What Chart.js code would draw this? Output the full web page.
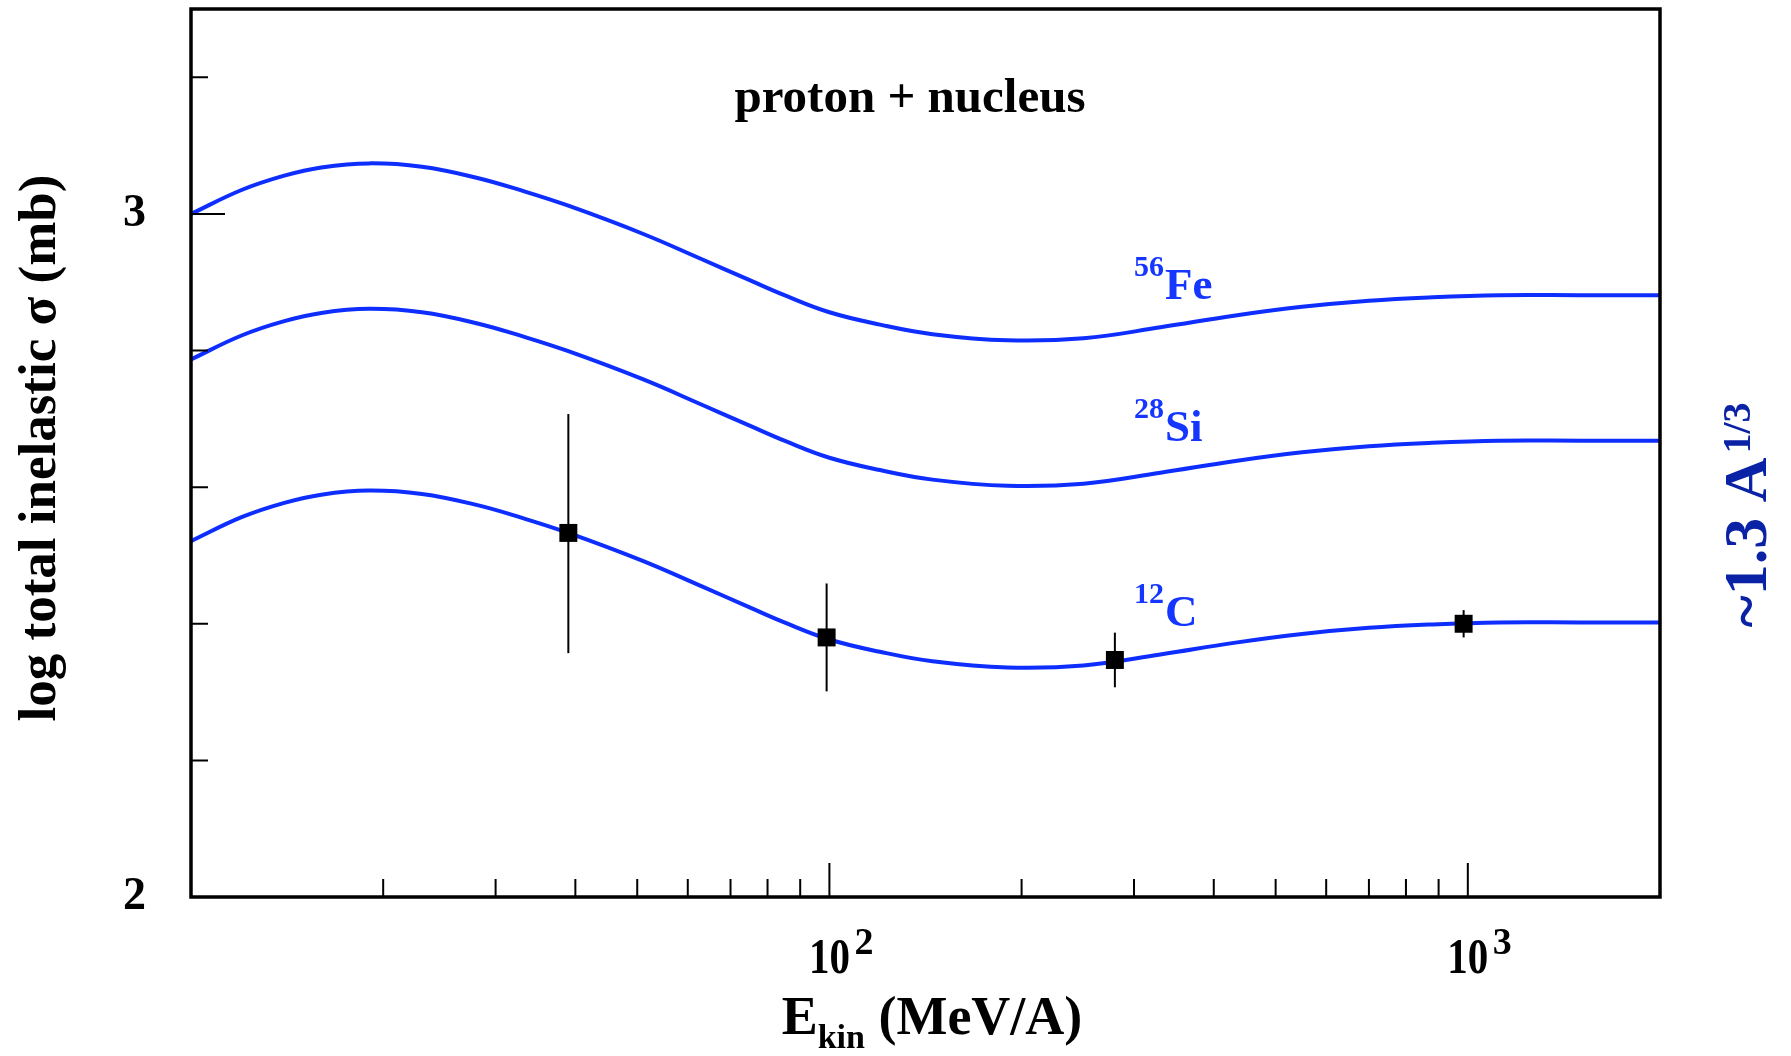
<!DOCTYPE html>
<html>
<head>
<meta charset="utf-8">
<script src="https://cdn.jsdelivr.net/npm/chart.js@4.4.1/dist/chart.umd.min.js"></script>
<style>
  body { margin: 0; background: #fff; }
  #wrap { width: 1791px; height: 1056px; }
</style>
</head>
<body>
<div id="wrap"><canvas id="xsec"></canvas></div>
<script>
// model curves, log10 of total inelastic cross section (mb) vs kinetic energy (MeV/A)
const energy  = [10, 12, 14, 16, 19, 23, 28, 33, 39, 51, 63, 75, 85, 100, 120, 145, 190, 250, 330, 430, 550, 700, 880, 1120, 1500, 2000];
const sigmaFe = [3.000, 3.035, 3.056, 3.068, 3.074, 3.069, 3.053, 3.034, 3.012, 2.971, 2.934, 2.903, 2.881, 2.856, 2.838, 2.824, 2.815, 2.818, 2.834, 2.851, 2.864, 2.873, 2.878, 2.881, 2.881, 2.881];
const sigmaSi = [2.787, 2.822, 2.843, 2.855, 2.861, 2.856, 2.840, 2.821, 2.799, 2.758, 2.721, 2.690, 2.668, 2.643, 2.625, 2.611, 2.602, 2.605, 2.621, 2.638, 2.651, 2.660, 2.665, 2.668, 2.668, 2.668];
const sigmaC  = [2.521, 2.556, 2.577, 2.589, 2.595, 2.590, 2.574, 2.555, 2.533, 2.492, 2.455, 2.424, 2.402, 2.377, 2.359, 2.345, 2.336, 2.339, 2.355, 2.372, 2.385, 2.394, 2.399, 2.402, 2.402, 2.402];

// measured 12C points with error bars
const measE  = [39, 99, 280, 985];
const measC  = [2.533, 2.380, 2.347, 2.400];
const measHi = [2.707, 2.459, 2.387, 2.420];
const measLo = [2.357, 2.301, 2.307, 2.380];

// axis ticks
const xMajor = [100, 1000];
const xMajorExp = ['2', '3'];
const xMinor = [20, 30, 40, 50, 60, 70, 80, 90, 200, 300, 400, 500, 600, 700, 800, 900];
const yMajor = [2, 3];
const yMinor = [2.2, 2.4, 2.6, 2.8, 3.2];

// isotope labels
const isoMass = ['56', '28', '12'];
const isoName = ['Fe', 'Si', 'C'];
const isoLevel = [2.876, 2.667, 2.397];

const BLUE = '#0d2eff';
const LABEL_BLUE = '#1436ff';
const DARK_BLUE = '#0a22a5';
const SERIF = '"Liberation Serif", "Times New Roman", serif';

function curve(values) {
  return {
    data: energy.map((e, i) => ({ x: e, y: values[i] })),
    showLine: true,
    borderColor: BLUE,
    borderWidth: 4,
    pointRadius: 0,
    tension: 0.4,
    order: 3
  };
}

const errorBars = measE.map((e, i) => ({
  data: [{ x: e, y: measLo[i] }, { x: e, y: measHi[i] }],
  showLine: true,
  borderColor: '#000',
  borderWidth: 2,
  pointRadius: 0,
  order: 2
}));

const frameAndLabels = {
  id: 'frameAndLabels',
  afterDraw(chart) {
    const { ctx, chartArea: a, scales: { x, y } } = chart;
    ctx.save();

    // inward ticks
    ctx.strokeStyle = '#000';
    ctx.lineWidth = 2;
    ctx.beginPath();
    xMinor.forEach(v => { const px = x.getPixelForValue(v); ctx.moveTo(px, a.bottom); ctx.lineTo(px, a.bottom - 18); });
    xMajor.forEach(v => { const px = x.getPixelForValue(v); ctx.moveTo(px, a.bottom); ctx.lineTo(px, a.bottom - 34); });
    yMinor.forEach(v => { const py = y.getPixelForValue(v); ctx.moveTo(a.left, py); ctx.lineTo(a.left + 17, py); });
    yMajor.forEach(v => { const py = y.getPixelForValue(v); ctx.moveTo(a.left, py); ctx.lineTo(a.left + 34, py); });
    ctx.stroke();

    // frame
    ctx.lineWidth = 3.5;
    ctx.strokeRect(a.left, a.top, a.right - a.left, a.bottom - a.top);

    ctx.fillStyle = '#000';

    // y tick labels
    ctx.font = 'bold 46px ' + SERIF;
    ctx.textAlign = 'right';
    ctx.textBaseline = 'middle';
    yMajor.forEach(v => ctx.fillText(String(v), 146, y.getPixelForValue(v)));

    // x tick labels 10^n
    ctx.textBaseline = 'alphabetic';
    xMajor.forEach((v, i) => {
      const px = x.getPixelForValue(v);
      ctx.save();
      ctx.translate(px, 973);
      ctx.scale(0.82, 1);
      ctx.font = 'bold 50px ' + SERIF;
      ctx.textAlign = 'center';
      ctx.fillText('10', 0, 0);
      ctx.restore();
      ctx.save();
      ctx.translate(px + 25, 954);
      ctx.font = 'bold 38px ' + SERIF;
      ctx.textAlign = 'left';
      ctx.fillText(xMajorExp[i], 0, 0);
      ctx.restore();
    });

    // x title: E_kin (MeV/A)
    ctx.textAlign = 'left';
    ctx.font = 'bold 54px ' + SERIF;
    const wE = ctx.measureText('E').width;
    const wRest = ctx.measureText(' (MeV/A)').width;
    ctx.font = 'bold 34px ' + SERIF;
    const wSub = ctx.measureText('kin').width;
    let tx = 932 - (wE + wSub + wRest) / 2;
    ctx.font = 'bold 54px ' + SERIF;
    ctx.fillText('E', tx, 1034);
    ctx.font = 'bold 34px ' + SERIF;
    ctx.fillText('kin', tx + wE, 1048);
    ctx.font = 'bold 54px ' + SERIF;
    ctx.fillText(' (MeV/A)', tx + wE + wSub, 1034);

    // y title
    ctx.save();
    ctx.translate(55, 448);
    ctx.rotate(-Math.PI / 2);
    ctx.font = 'bold 53px ' + SERIF;
    ctx.textAlign = 'center';
    ctx.fillText('log total inelastic \u03c3 (mb)', 0, 0);
    ctx.restore();

    // panel title
    ctx.font = 'bold 49px ' + SERIF;
    ctx.textAlign = 'center';
    ctx.fillText('proton + nucleus', 910, 112);

    // isotope labels
    ctx.fillStyle = LABEL_BLUE;
    ctx.textAlign = 'left';
    isoName.forEach((name, i) => {
      const base = y.getPixelForValue(isoLevel[i]);
      ctx.font = 'bold 30px ' + SERIF;
      ctx.fillText(isoMass[i], 1134, base - 23);
      ctx.font = 'bold 45px ' + SERIF;
      ctx.fillText(name, 1165, base);
    });

    // right side label ~1.3 A^(1/3)
    ctx.save();
    ctx.translate(1766, 515);
    ctx.rotate(-Math.PI / 2);
    ctx.fillStyle = DARK_BLUE;
    ctx.font = 'bold 62px ' + SERIF;
    const w1 = ctx.measureText('~1.3 A').width;
    ctx.font = 'bold 40px ' + SERIF;
    const w2 = ctx.measureText('1/3').width;
    const sx = -(w1 + w2 + 4) / 2;
    ctx.font = 'bold 62px ' + SERIF;
    ctx.fillText('~1.3 A', sx, 0);
    ctx.font = 'bold 40px ' + SERIF;
    ctx.fillText('1/3', sx + w1 + 4, -16);
    ctx.restore();

    ctx.restore();
  }
};

new Chart(document.getElementById('xsec'), {
  type: 'scatter',
  data: {
    datasets: [
      {
        data: measE.map((e, i) => ({ x: e, y: measC[i] })),
        pointStyle: 'rect',
        pointRadius: 12.7,
        backgroundColor: '#000',
        borderColor: '#000',
        borderWidth: 0,
        order: 1
      },
      ...errorBars,
      curve(sigmaFe),
      curve(sigmaSi),
      curve(sigmaC)
    ]
  },
  options: {
    responsive: true,
    maintainAspectRatio: false,
    devicePixelRatio: 1,
    animation: false,
    events: [],
    layout: { autoPadding: false, padding: { left: 191, top: 9, right: 131, bottom: 159 } },
    plugins: { legend: { display: false }, tooltip: { enabled: false } },
    scales: {
      x: { type: 'logarithmic', min: 10, max: 2000, display: false },
      y: { type: 'linear', min: 2, max: 3.3, display: false }
    }
  },
  plugins: [frameAndLabels]
});
</script>
</body>
</html>
